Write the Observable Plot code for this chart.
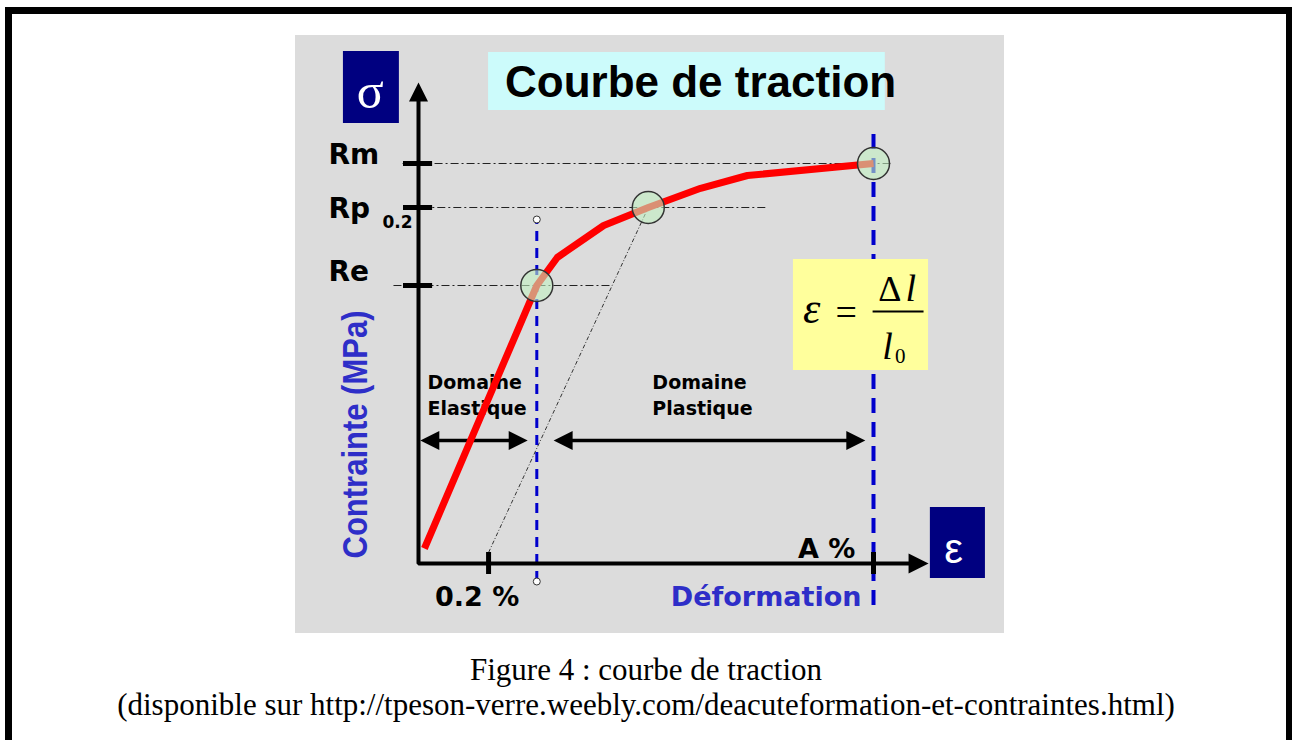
<!DOCTYPE html>
<html>
<head>
<meta charset="utf-8">
<script src="https://cdn.jsdelivr.net/npm/d3@7"></script>
<script src="https://cdn.jsdelivr.net/npm/@observablehq/plot@0.6"></script>
<style>
html, body { margin: 0; padding: 0; background: #fff; width: 1292px; height: 740px; overflow: hidden; }
#frame { position: absolute; left: 5px; top: 7px; width: 1274px; height: 760px;
  border-left: 7px solid #000; border-top: 7px solid #000; border-right: 6px solid #000; }
#chart { position: absolute; left: 295px; top: 35px; }
.cap { position: absolute; left: 0; width: 1292px; height: 31px; text-align: center; white-space: nowrap;
  font-family: "Liberation Serif", "Times New Roman", serif; font-size: 31px; line-height: 31px; color: #000; }
#cap1 { top: 654px; }
#cap2 { top: 689px; }
</style>
</head>
<body>
<div id="frame"></div>
<div id="chart"></div>
<div class="cap" id="cap1">Figure 4 : courbe de traction</div>
<div class="cap" id="cap2">(disponible sur http://tpeson-verre.weebly.com/deacuteformation-et-contraintes.html)</div>
<script>
// ---- data (schematic units: strain 0..100 = A %, stress 0..100 = Rm) ----
const curveStrain = [1.3, 26, 30.5, 40.7, 50.5, 62, 72.3, 100];
const curveStress = [3.75, 69.5, 76.5, 84.5, 89, 93.8, 97, 100];
const levelLabels = ["Rm", "Rp", "Re"];
const levelStress = [100, 89, 69.5];
const levelStrain = [100, 50.5, 26];
const strainLabels = ["0.2 %", "A %"];
const strainMarks = [15.4, 100];
const domainLabels = ["Domaine\nElastique", "Domaine\nPlastique"];
const domainFrom = [0.4, 29.7];
const domainTo = [24, 98.2];

const curve = curveStrain.map((s, i) => ({strain: s, stress: curveStress[i]}));
const levels = levelLabels.map((name, i) => ({name, stress: levelStress[i], strain: levelStrain[i]}));
const keyPoints = levels.map(d => ({strain: d.strain, stress: d.stress}));
const domainLabelX = [1.98, 51.4];
const domains = domainLabels.map((t, i) => ({text: t, from: domainFrom[i], to: domainTo[i], lx: domainLabelX[i]}));

// layout helpers (annotation placement)
const lineFrom = {Rm: -3.5, Rp: -2.9, Re: -5.5};
const lineTo = {Rm: 103.7, Rp: 76.3, Re: 42.6};
const labelShift = {Rm: 0, Rp: -2.5, Re: 1.25};
const domainY = 30.75;
const blue = "#0000cc";
const textBlue = "#2e2ec8";
const sans = "DejaVu Sans";
const serif = "Liberation Serif";

const headUp = {draw(c, size) { const r = Math.sqrt(size / Math.PI); c.moveTo(0, 0); c.lineTo(r, 2 * r); c.lineTo(-r, 2 * r); c.closePath(); }};
const headRight = {draw(c, size) { const r = Math.sqrt(size / Math.PI); c.moveTo(0, 0); c.lineTo(-2 * r, -r); c.lineTo(-2 * r, r); c.closePath(); }};
const headLeft = {draw(c, size) { const r = Math.sqrt(size / Math.PI); c.moveTo(0, 0); c.lineTo(2 * r, -r); c.lineTo(2 * r, r); c.closePath(); }};

const chart = Plot.plot({
  width: 709, height: 598, margin: 0,
  x: {domain: [0, 100], range: [123, 578], axis: null},
  y: {domain: [0, 100], range: [528, 128], axis: null},
  style: {background: "#dcdcdc", overflow: "visible"},
  marks: [
    // boxes
    Plot.rect([{x1: 15.4, x2: 102.6, y1: 113.25, y2: 127.75}], {x1: "x1", x2: "x2", y1: "y1", y2: "y2", fill: "#ccfbfb"}),
    Plot.rect([{x1: -16.5, x2: -4.2, y1: 110, y2: 128}, {x1: 112.5, x2: 124.6, y1: -3.75, y2: 14}], {x1: "x1", x2: "x2", y1: "y1", y2: "y2", fill: "#000080"}),
    // dash-dot level lines
    Plot.link(levels, {x1: d => lineFrom[d.name], x2: d => lineTo[d.name], y1: "stress", y2: "stress",
      stroke: "#222", strokeWidth: 1, strokeDasharray: "8,3,2,3"}),
    // offset (0.2 %) line parallel to the elastic part
    Plot.link([{x1: strainMarks[0], y1: 2.75, x2: levelStrain[1], y2: levelStress[1]}], {x1: "x1", y1: "y1", x2: "x2", y2: "y2",
      stroke: "#333", strokeWidth: 1, strokeDasharray: "4,2,1,2"}),
    // blue dashed verticals
    Plot.ruleX([{x: levelStrain[2], y1: -4.5, y2: 86}], {x: "x", y1: "y1", y2: "y2", stroke: blue, strokeWidth: 3, strokeDasharray: "10,7"}),
    Plot.ruleX([{x: strainMarks[1], y1: -10.5, y2: 107.5}], {x: "x", y1: "y1", y2: "y2", stroke: blue, strokeWidth: 4, strokeDasharray: "15,9"}),
    // formula box
    Plot.rect([{x1: 82.4, x2: 112.1, y1: 48.25, y2: 76}], {x1: "x1", x2: "x2", y1: "y1", y2: "y2", fill: "#ffff9c"}),
    // axes
    Plot.line([{x: 0, y: 118}, {x: 0, y: 0}, {x: 110, y: 0}], {x: "x", y: "y", stroke: "black", strokeWidth: 4, strokeLinejoin: "miter", strokeLinecap: "butt"}),
    Plot.dot([{x: 0, y: 120.25}], {x: "x", y: "y", symbol: headUp, r: 9.5, fill: "black"}),
    Plot.dot([{x: 112.1, y: 0}], {x: "x", y: "y", symbol: headRight, r: 10, fill: "black"}),
    // axis ticks
    Plot.ruleY(levels, {y: "stress", x1: () => -3.3, x2: () => 3.1, stroke: "black", strokeWidth: 5}),
    Plot.ruleX(strainMarks, {x: d => d, y1: () => -2.75, y2: () => 2.75, stroke: "black", strokeWidth: 5}),
    // domain arrows
    Plot.link(domains, {x1: d => d.from + 2, x2: d => d.to - 2, y1: () => domainY, y2: () => domainY, stroke: "black", strokeWidth: 3.5}),
    Plot.dot(domains, {x: "from", y: () => domainY, symbol: headLeft, r: 9.5, fill: "black"}),
    Plot.dot(domains, {x: "to", y: () => domainY, symbol: headRight, r: 9.5, fill: "black"}),
    Plot.text(domains, {x: "lx", y: () => 37.25, text: "text", textAnchor: "start", lineAnchor: "bottom", lineHeight: 1.32,
      fontFamily: sans, fontWeight: "bold", fontSize: 19, fill: "black"}),
    // stress-strain curve
    Plot.line(curve, {x: "strain", y: "stress", stroke: "#ff0000", strokeWidth: 7, strokeLinejoin: "round", strokeLinecap: "butt"}),
    // key points
    Plot.dot(keyPoints, {x: "strain", y: "stress", r: 16, fill: "#c2f0c2", fillOpacity: 0.6, stroke: "#333", strokeWidth: 1.5}),
    Plot.dot([{x: levelStrain[2], y: 86}, {x: levelStrain[2], y: -4.5}], {x: "x", y: "y", r: 3.5, fill: "white", stroke: "#333", strokeWidth: 1}),
    // title and symbols
    Plot.text([{x: 62, y: 116.75}], {x: "x", y: "y", text: () => "Courbe de traction", fontFamily: "Liberation Sans", fontWeight: "bold", fontSize: 44, lineAnchor: "bottom", fill: "black"}),
    Plot.text([{x: -10.6, y: 114}], {x: "x", y: "y", text: () => "σ", fontFamily: serif, fontSize: 50, lineAnchor: "bottom", fill: "white"}),
    Plot.text([{x: 117.6, y: 0.25}], {x: "x", y: "y", text: () => "ε", fontFamily: "Liberation Sans", fontSize: 42, lineAnchor: "bottom", fill: "white"}),
    // level labels
    Plot.text(levels, {x: () => 0, y: d => d.stress + labelShift[d.name], text: "name", dx: -90, textAnchor: "start", lineAnchor: "bottom",
      fontFamily: sans, fontWeight: "bold", fontSize: 28, fill: "black"}),
    Plot.text([{x: 0, y: levelStress[1] - 5}], {x: "x", y: "y", text: () => "0.2", dx: -36, textAnchor: "start", lineAnchor: "bottom",
      fontFamily: sans, fontWeight: "bold", fontSize: 17, fill: "black"}),
    // strain labels
    Plot.text([{x: 12.9, y: -10.5, t: strainLabels[0]}, {x: 89.7, y: 1.5, t: strainLabels[1]}], {x: "x", y: "y", text: "t", lineAnchor: "bottom",
      fontFamily: sans, fontWeight: "bold", fontSize: 27, fill: "black"}),
    Plot.text([{x: 76.4, y: -10.5}], {x: "x", y: "y", text: () => "Déformation", lineAnchor: "bottom",
      fontFamily: sans, fontWeight: "bold", fontSize: 27, fill: textBlue}),
    Plot.text([{x: -11.4, y: 32.25}], {x: "x", y: "y", text: () => "Contrainte (MPa)", rotate: -90, lineAnchor: "bottom",
      fontFamily: "Liberation Sans", fontWeight: "bold", fontSize: 35, fill: textBlue}),
    // formula  ε = Δl / l0
    Plot.text([{x: 86.4, y: 60.25}], {x: "x", y: "y", text: () => "ε", fontFamily: serif, fontStyle: "italic", fontSize: 44, lineAnchor: "bottom", fill: "black"}),
    Plot.text([{x: 94, y: 59.75}], {x: "x", y: "y", text: () => "=", fontFamily: serif, fontSize: 38, lineAnchor: "bottom", fill: "black"}),
    Plot.link([{x1: 99.8, x2: 111, y: 63}], {x1: "x1", x2: "x2", y1: "y", y2: "y", stroke: "black", strokeWidth: 2}),
    Plot.text([{x: 103.6, y: 65.75}], {x: "x", y: "y", text: () => "Δ", fontFamily: serif, fontSize: 36, lineAnchor: "bottom", fill: "black"}),
    Plot.text([{x: 108.2, y: 65.75}], {x: "x", y: "y", text: () => "l", fontFamily: serif, fontStyle: "italic", fontSize: 38, lineAnchor: "bottom", fill: "black"}),
    Plot.text([{x: 103.1, y: 51.25}], {x: "x", y: "y", text: () => "l", fontFamily: serif, fontStyle: "italic", fontSize: 38, lineAnchor: "bottom", fill: "black"}),
    Plot.text([{x: 105.9, y: 50.25}], {x: "x", y: "y", text: () => "0", fontFamily: serif, fontSize: 21, lineAnchor: "bottom", fill: "black"})
  ]
});

d3.select(chart).selectAll("text")
  .filter(function() { return this.textContent === "Contrainte (MPa)"; })
  .attr("textLength", 248).attr("lengthAdjust", "spacingAndGlyphs");

document.getElementById("chart").appendChild(chart);
</script>
</body>
</html>
